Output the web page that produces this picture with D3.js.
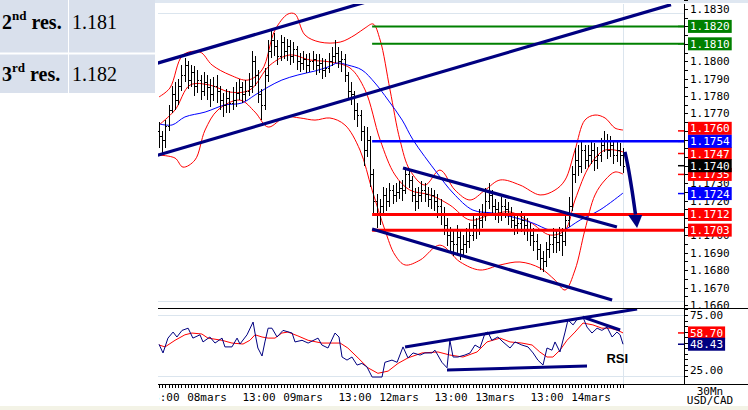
<!DOCTYPE html>
<html><head><meta charset="utf-8">
<script src="https://cdn.jsdelivr.net/npm/d3@7"></script>
<style>
html,body{margin:0;padding:0;background:#fff;}
svg{display:block;}
</style></head><body>
<svg id="c" width="748" height="410"></svg>
<script>
// ---------- DATA (prices in pips above BASE) ----------
const BASE = 1.16;
const opens = [160,157,155,163,172,181,178,186,192,198, 189,194,186,189,183,188,185,181,186,183, 178,175,179,176,178,182,185,181,183,186, 200,192,181,175,192,206,212,209,203,211, 206,209,203,207,200,199,201,198,200,201, 198,199,195,196,200,203,205,200,201,192, 183,181,172,169,160,149,155,135,120,112, 117,123,120,126,123,125,127,126,135,132, 123,120,123,126,124,121,123,120,117,112, 106,100,97,95,99,92,95,97,100,106, 103,109,112,120,123,117,115,112,117,115, 112,109,106,107,109,106,103,100,97,92, 87,85,92,95,99,96,100,97,109,117, 135,143,140,149,143,146,149,143,146,152, 155,149,152,146,149,146];
const highs = [165,160,166,175,186,188,190,198,202,200, 198,197,195,192,194,192,190,191,192,186, 182,184,183,185,188,190,188,189,193,206, 203,195,184,196,212,218,216,212,215,214, 213,212,211,209,205,206,204,205,206,204, 204,202,201,205,208,212,208,206,204,194, 188,183,176,172,163,162,157,138,124,121, 128,127,130,129,130,131,132,139,138,134, 127,128,131,130,128,127,126,124,121,116, 110,105,103,106,103,100,104,107,112,110, 115,118,127,130,126,121,119,122,121,119, 116,113,112,114,113,110,107,104,101,95, 91,96,100,104,103,105,104,113,122,140, 150,152,154,152,152,155,153,151,156,160, 158,157,155,154,153,150];
const lows = [150,146,150,160,170,172,175,183,188,184, 185,180,182,178,180,178,174,177,176,172, 168,170,170,172,174,178,176,177,180,182, 186,176,166,172,188,202,203,198,200,201, 200,198,199,195,194,195,193,194,195,192, 193,190,191,193,197,199,196,194,188,178, 175,166,162,154,140,145,128,113,104,106, 112,114,116,118,119,121,120,124,127,119, 114,115,119,119,116,115,114,110,106,100, 94,90,88,90,86,88,90,93,97,98, 100,104,108,115,112,109,107,108,110,106, 104,100,101,102,100,97,94,91,86,80, 79,82,87,90,90,91,88,94,105,114, 130,134,136,138,139,141,137,138,142,148, 144,145,141,142,140,136];
const closes = [157,155,163,172,181,178,186,192,198,189, 194,186,189,183,188,185,181,186,183,178, 175,179,176,178,182,185,181,183,186,200, 192,181,175,192,206,212,209,203,211,206, 209,203,207,200,199,201,198,200,201,198, 199,195,196,200,203,205,200,201,192,183, 181,172,169,160,149,155,135,120,112,117, 123,120,126,123,125,127,126,135,132,123, 120,123,126,124,121,123,120,117,112,106, 100,97,95,99,92,95,97,100,106,103, 109,112,120,123,117,115,112,117,115,112, 109,106,107,109,106,103,100,97,92,87, 85,92,95,99,96,100,97,109,117,135, 143,140,149,143,146,149,143,146,152,155, 149,152,146,149,146,140];

// Bollinger-type bands (red) and moving average (blue), read as (bar index, pips)
const bbUpIdx = [0,3.4,7.5,12.8,16.6,22.2,27.8,32.2,36.25,40.3,42.5,45.6,50.3,56.6,61.25,64.4,66.9,69.1,72.2,75.3,78.4,83.1,87.8,92.5,97.2,101.9,106.6,112.8,119.1,123.75,126.9,130,133.1,136.25,139.4,142.5,145];
const bbUpVal = [179.5,184.6,203.6,205.3,197.8,192.1,189.2,195,217.9,227.1,227.1,215.1,211,211,215.1,219.1,221.4,212.2,183.5,154.8,137.5,128.9,137.5,126,120.3,126,131.8,128.9,123.2,126,131.8,149,166.2,169.1,167.4,161.6,160.5];
const bbMidIdx = [0,5,9.7,15.9,22.2,28.4,34.7,40.9,47.2,53.4,59.7,64.4,69.1,73.75,78.4,84.7,90.9,97.2,103.4,109.7,115.9,122.2,126.9,130,134.7,139.4,145];
const bbMidVal = [163.4,172,186.3,186.3,182.3,183.5,197.8,203.6,200.7,199.6,196.1,183.5,154.8,134.7,126,123.2,117.4,108.8,111.7,113.4,107.7,100.2,103.1,120.3,140.4,149,147.9];
const bbLoIdx = [0,5,7.5,11.25,14.4,18.4,25.3,30,34.1,39.4,44.1,48.75,53.4,58.1,62.8,66.6,70.6,73.75,76.9,81.6,87.8,94.1,100.3,106.6,112.8,119.1,123.75,126.9,130,133.1,136.25,139.4,142.5,145];
const bbLoVal = [146.1,144.4,139.2,143.3,160.5,172,177.7,170.8,162.2,168,167.4,166.2,167.4,163.4,149,126,103.1,88.7,83,85.8,94.4,84.7,80.1,83,84.7,81.2,74.3,68.6,80.1,103.1,123.2,131.8,136.4,135.2];
const maIdx = [0,4.1,8.1,14.4,20.6,25.9,30,34.1,38.4,43.4,48.75,52.8,55.9,59,63.4,67.5,71.6,76,79.4,86.9,91.9,98.1,104.4,110.6,116.9,122.2,126.25,131.6,137.8,145];
const maVal = [164,163.4,168,170.8,174.9,176,180.6,185.2,189.2,192.1,194.4,196.7,199,197.8,195,187.5,177.7,166.2,154.8,135.8,124.3,114.5,112.8,110.5,107,103,103,108.8,114.6,124.3];

// RSI and its signal
const rsiIdx = [0,1.25,2.8,4.4,5.6,7.2,9.1,10.6,12.8,13.75,15.9,17.5,19.7,20.6,22.8,24.4,25.3,27.5,29.4,30,30.9,32.2,33.1,34.1,35.3,36.9,38.75,41.6,42.5,44.7,46.6,49.7,50.9,52.8,55,56.25,57.2,58.75,60.3,61.9,63.4,65,66.6,69.7,70.6,72.8,74.4,76.25,77.8,79.4,81.6,83.1,85.3,86.25,88.4,90,90.9,91.9,93.4,95.6,97.2,98.75,100.3,101.9,102.8,104,105.9,107.5,109.7,111.25,113.4,115.3,116.9,118.4,120,121.25,122.8,123.75,125.3,126.9,127.8,129.4,130.9,132.5,133.75,135.3,136.9,138.4,140,141.6,143.1,144.1,145];
const rsiVal = [48.4,40.5,54,59.5,55,61,63,54,57,50.5,55,49.5,54,46,46,54,48.6,57,68.6,58.6,45,37.7,50.5,63,63,55,61,58.6,50.5,52,49.5,54,47.7,45,58.6,55,36.8,34,36.8,29.5,31,27.7,18.6,18.6,32,34,32,46,36,40.5,38.6,40.5,40.5,43,32,27,52,36.8,36.8,38.6,40.5,47.7,45,58.6,59.5,52,55,50.5,45,50.5,47.7,46,40.5,34,29.5,45,43,50.5,41.4,59.5,70.5,66,72,73,64,58.6,63,61,64,55,59.5,57,48.43];
const sigIdx = [0,1.9,5,8.1,10.3,13.4,15.3,19.7,22.8,26.25,28.4,30,32.2,34.1,36.25,38.4,40.3,43.4,46.6,50.9,56.6,59,62.2,65.3,68.4,71.6,74.7,77.8,82.2,87.2,90.9,95,99.4,102.5,106.6,109.7,113.4,116.6,119,121.25,123.1,125.3,127.5,130,132.5,135.6,138.4,141,143.4,145];
const sigVal = [47.7,46,52,57,58.6,57.7,54,52,49.5,48.6,52,57,55,54,54,58.6,59.5,56,52,49.5,49.5,45,36,27,22,24,31,36,40.5,41.4,38.6,36.8,41.4,50.5,54,50.5,49.5,47.7,41.4,36.8,36.8,43,52,59.5,67.7,66,63,63,61,58.7];

// Drawn trend lines (bar index, pips) and RSI trend lines (bar index, rsi)
const chanUpper = [[-0.5,198.9],[70,236.9]];
const chanLower = [[-0.5,146.0],[160,232.5]];
const descUpper = [[76.25,138.7],[143.1,104.8]];
const descLower = [[66.6,103.6],[141.6,62.9]];
const arrowPath = [[145.6,147.9],[146.6,139.2],[147.8,126],[148.9,112]];
const arrowHead = [[146.6,111.7],[151,111.7],[149.4,104.2]];
const rsiUpper = [[76.9,46],[149.4,80.5]];
const rsiLower = [[90,25],[133.75,28.6]];
const rsiDesc = [[132.5,73],[144.1,61.4]];

// Horizontal levels
const levelStart = 66.6;
const levelPrices = [1.1820,1.1810,1.1754,1.1712,1.1703];
const levelColors = ["#008000","#008000","#0000ff","#ff0000","#ff0000"];

// Axis ticks
const priceTicks = [1.1660,1.1670,1.1680,1.1690,1.1700,1.1720,1.1730,1.1770,1.1780,1.1790,1.1800,1.1830];
const rsiTickLabels = [75,25];
const xTickIdx = [1.25,15,31.25,45,61.25,75,91.25,105,121.25,135];
const xTickLabels = ["13:00","08mars","13:00","09mars","13:00","12mars","13:00","13mars","13:00","14mars"];

// Price tags on axis (drawn in this order)
const tagValues = [1.1820,1.1810,1.1760,1.1747,1.1735,1.1754,1.1724,1.1712,1.1703,1.1740];
const tagColors = ["#008000","#008000","#ff0000","#ff0000","#ff0000","#0000ff","#0000ff","#ff0000","#ff0000","#000000"];
const rsiTagValues = [58.70,48.43];
const rsiTagColors = ["#ff0000","#000080"];

// Table
const tableRows = [["2","nd","res.","1.181"],["3","rd","res.","1.182"]];

// ---------- DRAW ----------
const svg = d3.select("#c");
const x = d3.scaleLinear().domain([0,145]).range([159,623]);
const yP = d3.scaleLinear().domain([1.1660,1.1830]).range([305,9]);
const yR = d3.scaleLinear().domain([25,75]).range([370,315]);
const P = v => BASE + v/10000;
const L = 158, R = 684, PT = 4, PB = 307, RT = 309, RB = 383, XA = 384;
const MONO = "'DejaVu Sans Mono', monospace";

const defs = svg.append("defs");
defs.append("clipPath").attr("id","cp").append("rect").attr("x",L).attr("y",PT).attr("width",R-L).attr("height",PB-PT);
defs.append("clipPath").attr("id","cr").append("rect").attr("x",L).attr("y",RT).attr("width",R-L).attr("height",RB-RT);
defs.append("clipPath").attr("id","cx").append("rect").attr("x",L+1).attr("y",XA).attr("width",R-L).attr("height",26);

// backgrounds
svg.append("rect").attr("x",155).attr("y",0).attr("width",593).attr("height",3).attr("fill","#dfe7f1");
svg.append("rect").attr("x",0).attr("y",406).attr("width",748).attr("height",4).attr("fill","#f3f3e6");

// table
svg.append("rect").attr("x",0).attr("y",0).attr("width",155).attr("height",93).attr("fill","#d9e0ec");
svg.append("line").attr("x1",0).attr("x2",155).attr("y1",53.5).attr("y2",53.5).attr("stroke","#fff").attr("stroke-width",2);
svg.append("line").attr("x1",68.5).attr("x2",68.5).attr("y1",0).attr("y2",93).attr("stroke","#fff").attr("stroke-width",1);
const rowBase = [29, 81];
tableRows.forEach((r,i)=>{
  const t = svg.append("text").attr("x",2).attr("y",rowBase[i]).attr("font-family","'Liberation Serif', serif").attr("font-weight","bold").attr("font-size",20).attr("fill","#000");
  t.append("tspan").text(r[0]);
  t.append("tspan").attr("dy",-9).attr("font-size",13).text(r[1]);
  t.append("tspan").attr("dy",9).attr("font-size",20).text("\u00a0"+r[2]);
  svg.append("text").attr("x",72).attr("y",rowBase[i]).attr("font-family","'Liberation Serif', serif").attr("font-size",20).attr("fill","#000").text(r[3]);
});

// faint frame lines
const faint = "#dbe5ee";
[13,301].forEach(d=>svg.append("line").attr("x1",L).attr("x2",R).attr("y1",d+0.5).attr("y2",d+0.5).attr("stroke",faint));
[75,20].forEach(v=>svg.append("line").attr("x1",L).attr("x2",R).attr("y1",Math.round(yR(v))+0.5).attr("y2",Math.round(yR(v))+0.5).attr("stroke",faint));
svg.append("line").attr("x1",Math.round(x(145))+0.5).attr("x2",Math.round(x(145))+0.5).attr("y1",PT).attr("y2",XA).attr("stroke",faint);

// ---- price panel ----
const gp = svg.append("g").attr("clip-path","url(#cp)");
const lineP = d3.line().x(d=>x(d[0])).y(d=>yP(P(d[1]))).curve(d3.curveCatmullRom);
const zipP = (a,b)=>a.map((v,i)=>[v,b[i]]);
gp.append("path").attr("d",lineP(zipP(bbUpIdx,bbUpVal))).attr("fill","none").attr("stroke","#ff0000").attr("stroke-width",1);
gp.append("path").attr("d",lineP(zipP(bbMidIdx,bbMidVal))).attr("fill","none").attr("stroke","#ff0000").attr("stroke-width",1);
gp.append("path").attr("d",lineP(zipP(bbLoIdx,bbLoVal))).attr("fill","none").attr("stroke","#ff0000").attr("stroke-width",1);
gp.append("path").attr("d",lineP(zipP(maIdx,maVal))).attr("fill","none").attr("stroke","#0000ff").attr("stroke-width",1);

// OHLC bars
const bars = gp.append("g").attr("fill","#000");
closes.forEach((c,i)=>{
  const cx = Math.round(x(i));
  const yh = Math.round(yP(P(highs[i]))), yl = Math.round(yP(P(lows[i])));
  bars.append("rect").attr("x",cx).attr("width",1).attr("y",yh).attr("height",Math.max(1,yl-yh));
  bars.append("rect").attr("x",cx-1).attr("width",1).attr("y",Math.round(yP(P(opens[i])))).attr("height",1);
  bars.append("rect").attr("x",cx+1).attr("width",1).attr("y",Math.round(yP(P(c)))).attr("height",1);
});

// horizontal levels
levelPrices.forEach((p,i)=>{
  gp.append("line").attr("x1",x(levelStart)).attr("x2",R).attr("y1",yP(p)).attr("y2",yP(p))
    .attr("stroke",levelColors[i]).attr("stroke-width",i<2?2:(i==2?2.5:3));
});
// channels
const lineS = d3.line().x(d=>x(d[0])).y(d=>yP(P(d[1])));
[chanUpper,chanLower,descUpper,descLower].forEach(seg=>{
  gp.append("path").attr("d",lineS(seg)).attr("fill","none").attr("stroke","#000080").attr("stroke-width",3.2);
});
// arrow
gp.append("path").attr("d",lineP(arrowPath)).attr("fill","none").attr("stroke","#000080").attr("stroke-width",3.5);
gp.append("path").attr("d",lineS(arrowHead)+"Z").attr("fill","#000080");

// ---- RSI panel ----
const gr = svg.append("g").attr("clip-path","url(#cr)");
const lineR = d3.line().x(d=>x(d[0])).y(d=>yR(d[1]));
gr.append("path").attr("d",lineR(zipP(sigIdx,sigVal))).attr("fill","none").attr("stroke","#ff0000").attr("stroke-width",1);
gr.append("path").attr("d",lineR(zipP(rsiIdx,rsiVal))).attr("fill","none").attr("stroke","#000080").attr("stroke-width",1);
[rsiUpper,rsiLower,rsiDesc].forEach(seg=>{
  gr.append("path").attr("d",lineR(seg)).attr("fill","none").attr("stroke","#000080").attr("stroke-width",3);
});
svg.append("text").attr("x",x(143.2)).attr("y",yR(31)).attr("text-anchor","middle")
  .attr("font-family","'Liberation Sans', Arial, sans-serif").attr("font-weight","bold").attr("font-size",13).attr("fill","#000").text("RSI");

// separator and axes
svg.append("line").attr("x1",L).attr("x2",748).attr("y1",308.5).attr("y2",308.5).attr("stroke","#000");
svg.append("line").attr("x1",R+0.5).attr("x2",R+0.5).attr("y1",PT).attr("y2",XA).attr("stroke","#000");
svg.append("line").attr("x1",L).attr("x2",748).attr("y1",XA+0.5).attr("y2",XA+0.5).attr("stroke","#000");

// price axis ticks + labels
d3.range(1.1660,1.18351,0.0005).forEach(p=>{
  const yy = Math.round(yP(p))+0.5;
  svg.append("line").attr("x1",R).attr("x2",R+4).attr("y1",yy).attr("y2",yy).attr("stroke","#000");
});
priceTicks.forEach(p=>{
  svg.append("text").attr("x",690).attr("y",yP(p)+4).attr("font-family",MONO).attr("font-size",11).attr("fill","#000").text(p.toFixed(4));
});
// rsi axis ticks + labels
d3.range(20,81,5).forEach(v=>{
  const yy = Math.round(yR(v))+0.5;
  if (yy>RT && yy<RB) svg.append("line").attr("x1",R).attr("x2",R+4).attr("y1",yy).attr("y2",yy).attr("stroke","#000");
});
rsiTickLabels.forEach(v=>{
  svg.append("text").attr("x",690).attr("y",yR(v)+4).attr("font-family",MONO).attr("font-size",11).attr("fill","#000").text(v.toFixed(2));
});

// tags (non-black tags pushed apart from the bottom up when they collide)
const tagY = tagValues.map(v=>yP(v));
const order = tagValues.map((v,i)=>i).filter(i=>tagColors[i]!=="#000000").sort((a,b)=>tagValues[a]-tagValues[b]);
let prevY = null;
order.forEach(i=>{ if (prevY!==null && prevY-tagY[i] < 12) tagY[i] = prevY-13; prevY = tagY[i]; });
function tag(yy,yLine,color,label){
  svg.append("line").attr("x1",R-6).attr("x2",R).attr("y1",yLine).attr("y2",yLine).attr("stroke",color).attr("stroke-width",1.5);
  const w = label.length*6.62+4;
  svg.append("rect").attr("x",688).attr("y",yy-6.5).attr("width",w).attr("height",13).attr("fill",color);
  svg.append("text").attr("x",690).attr("y",yy+4).attr("font-family",MONO).attr("font-size",11).attr("fill","#fff").text(label);
}
tagValues.forEach((v,i)=>tag(tagY[i],yP(v),tagColors[i],v.toFixed(4)));
rsiTagValues.forEach((v,i)=>tag(yR(v),yR(v),rsiTagColors[i],v.toFixed(2)));

// x axis ticks + labels
const gx = svg.append("g").attr("clip-path","url(#cx)");
closes.forEach((c,i)=>{
  const xx = Math.round(x(i))+0.5;
  gx.append("line").attr("x1",xx).attr("x2",xx).attr("y1",XA).attr("y2",XA+4).attr("stroke","#000");
});
xTickIdx.forEach((t,i)=>{
  gx.append("text").attr("x",x(t)).attr("y",401).attr("text-anchor","middle").attr("font-family",MONO).attr("font-size",11).attr("fill","#000").text(xTickLabels[i]);
});
svg.append("text").attr("x",710).attr("y",395).attr("text-anchor","middle").attr("font-family",MONO).attr("font-size",11).attr("fill","#000").text("30Mn");
svg.append("text").attr("x",710).attr("y",404).attr("text-anchor","middle").attr("font-family",MONO).attr("font-size",11).attr("fill","#000").text("USD/CAD");
</script>
</body></html>
